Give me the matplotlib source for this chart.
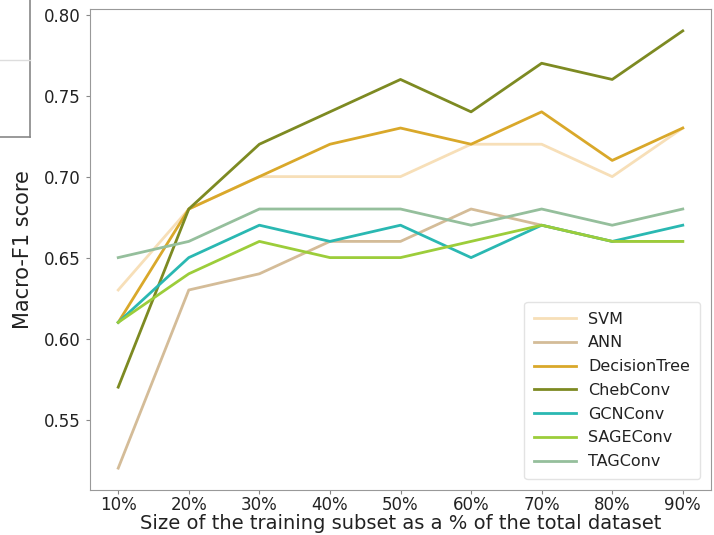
import matplotlib.pyplot as plt
from matplotlib.lines import Line2D

# Training subset sizes (x axis)
subset_sizes = ['10%', '20%', '30%', '40%', '50%', '60%', '70%', '80%', '90%']

# Macro-F1 score per model
svm = [0.63, 0.68, 0.70, 0.70, 0.70, 0.72, 0.72, 0.70, 0.73]
ann = [0.52, 0.63, 0.64, 0.66, 0.66, 0.68, 0.67, 0.66, 0.66]
decision_tree = [0.61, 0.68, 0.70, 0.72, 0.73, 0.72, 0.74, 0.71, 0.73]
cheb_conv = [0.57, 0.68, 0.72, 0.74, 0.76, 0.74, 0.77, 0.76, 0.79]
gcn_conv = [0.61, 0.65, 0.67, 0.66, 0.67, 0.65, 0.67, 0.66, 0.67]
sage_conv = [0.61, 0.64, 0.66, 0.65, 0.65, 0.66, 0.67, 0.66, 0.66]
tag_conv = [0.65, 0.66, 0.68, 0.68, 0.68, 0.67, 0.68, 0.67, 0.68]

series = [
    ('SVM', svm, '#f7dfb8'),
    ('ANN', ann, '#d4bc98'),
    ('DecisionTree', decision_tree, '#d9a82a'),
    ('ChebConv', cheb_conv, '#7d8a22'),
    ('GCNConv', gcn_conv, '#2ab8b2'),
    ('SAGEConv', sage_conv, '#9ccd3a'),
    ('TAGConv', tag_conv, '#95bf9c'),
]

fig = plt.figure(figsize=(7.14, 5.35), dpi=100)
ax = fig.add_axes([90 / 714, 45 / 535, 621 / 714, 481 / 535])

x = list(range(len(subset_sizes)))
for name, vals, color in series:
    ax.plot(x, vals, color=color, linewidth=2, label=name)

ax.set_xticks(x)
ax.set_xticklabels(subset_sizes)
ax.set_yticks([0.55, 0.60, 0.65, 0.70, 0.75, 0.80])
ax.tick_params(labelsize=12, colors='#888888', labelcolor='#222222', length=3)
ax.tick_params(axis='x', pad=1.5)
for s in ax.spines.values():
    s.set_color('#999999')

ax.set_ylabel('Macro-F1 score', fontsize=15, color='#222222', labelpad=8)
ax.set_xlabel('Size of the training subset as a % of the total dataset',
              fontsize=14, color='#222222', labelpad=0)

leg = ax.legend(loc='lower right', fontsize=11.5, frameon=True, fancybox=True,
                handlelength=2.6, labelspacing=0.55, borderpad=0.6,
                borderaxespad=0.7)
leg.get_frame().set_edgecolor('#dddddd')
for t in leg.get_texts():
    t.set_color('#222222')

# Fragment of a neighbouring panel's frame at the top-left edge
fw, fh = 714, 535
fig.add_artist(Line2D([30 / fw, 30 / fw], [1, 1 - 137 / fh], color='#888888', lw=1.2))
fig.add_artist(Line2D([0, 30 / fw], [1 - 137 / fh, 1 - 137 / fh], color='#888888', lw=1.2))
fig.add_artist(Line2D([0, 30 / fw], [1 - 60 / fh, 1 - 60 / fh], color='#dddddd', lw=1))

fig.savefig('out.png', dpi=100)
